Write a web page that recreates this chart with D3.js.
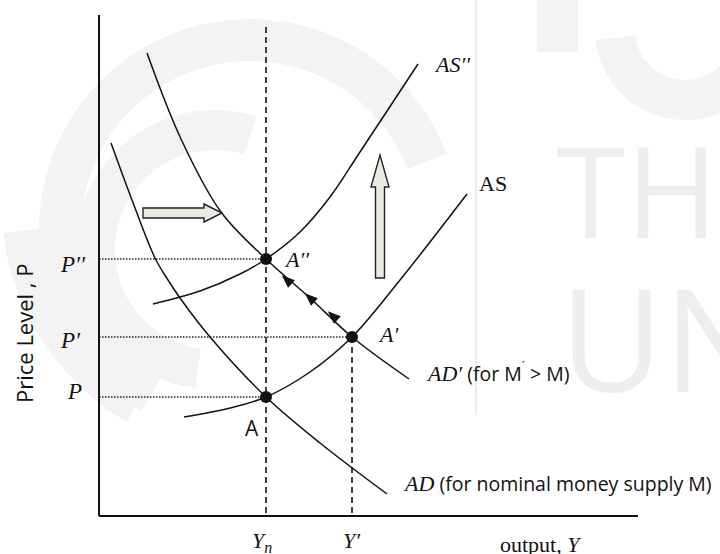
<!DOCTYPE html>
<html>
<head>
<meta charset="utf-8">
<script src="https://cdn.jsdelivr.net/npm/d3@7"></script>
<style>
  body { margin: 0; background: #fff; }
  .serif { font-family: "Liberation Serif", "DejaVu Serif", serif; }
  .sans { font-family: "Open Sans", "Liberation Sans", sans-serif; }
</style>
</head>
<body>
<div id="chart"></div>
<script>
// curve points in chart units (output across, price level up)
var adCurve = [[12, 373], [33, 316], [56, 258], [69, 236], [81, 218], [111, 179], [167, 119], [221, 73], [288, 22]];
var adPrimeCurve = [[48, 463], [82, 377], [122, 304], [167, 257], [211, 218], [253, 179], [310, 137]];
var asCurve = [[85, 99], [131, 108], [167, 119], [211, 144], [253, 179], [301, 236], [368, 322]];
var asDoubleCurve = [[54, 212], [101, 225], [141, 242], [167, 257], [201, 284], [231, 319], [261, 364], [319, 452]];

// equilibrium points
var points = [
    {name: "A", x: 167, y: 119},
    {name: "A'", x: 253, y: 179},
    {name: "A''", x: 167, y: 257}
];
var outputLevels = [{label: "Yn", x: 167, top: 489}, {label: "Y'", x: 253, top: 179}];
var priceLevels = [{label: "P", y: 119, x: 167}, {label: "P'", y: 179, x: 253}, {label: "P''", y: 257, x: 167}];

// small arrowheads on AD' going from A' back up to A''
var pathArrows = [[188, 236], [211, 218], [234, 200]];

// shift arrows: AD shifts right, AS shifts up
var shiftRight = {x0: 44, x1: 123, y: 303};
var shiftUp = {x: 281, y0: 238, y1: 361};

var width = 720, height = 554;
var svg = d3.select("#chart").append("svg").attr("width", width).attr("height", height);

var x = d3.scaleLinear().domain([0, 539]).range([99, 638]);
var y = d3.scaleLinear().domain([0, 501]).range([516, 15]);

// faint watermark in the background
var wm = svg.append("g").attr("fill", "none").attr("stroke", "#f3f3f3");
wm.append("path").attr("stroke-width", 42)
    .attr("d", d3.arc().innerRadius(190).outerRadius(190).startAngle(-2.6).endAngle(1.2)())
    .attr("transform", "translate(250,230)");
wm.append("path").attr("stroke-width", 40)
    .attr("d", d3.arc().innerRadius(120).outerRadius(120).startAngle(-3.0).endAngle(0.3)())
    .attr("transform", "translate(215,250)");
wm.append("path").attr("stroke-width", 38)
    .attr("d", d3.arc().innerRadius(240).outerRadius(240).startAngle(-2.6).endAngle(-1.7)())
    .attr("transform", "translate(260,200)");
wm.append("path").attr("stroke-width", 40)
    .attr("d", d3.arc().innerRadius(70).outerRadius(70).startAngle(1.2).endAngle(4.6)())
    .attr("transform", "translate(685,30)");
wm.append("rect").attr("x", 537).attr("y", 0).attr("width", 41).attr("height", 52)
    .attr("fill", "#f3f3f3").attr("stroke", "none");
wm.append("line").attr("x1", 476).attr("x2", 476).attr("y1", 0).attr("y2", 415)
    .attr("stroke", "#ebebeb").attr("stroke-width", 2);
svg.append("text").attr("class", "sans").attr("x", 556).attr("y", 238)
    .attr("font-size", 126).attr("fill", "#eeeeee").text("THE");
svg.append("text").attr("class", "sans").attr("x", 560).attr("y", 392)
    .attr("font-size", 142).attr("fill", "#eeeeee").text("UN");

// axes
svg.append("line").attr("x1", x(0)).attr("x2", x(0)).attr("y1", y(501)).attr("y2", y(0))
    .attr("stroke", "#111").attr("stroke-width", 2);
svg.append("line").attr("x1", x(0)).attr("x2", x(539)).attr("y1", y(0)).attr("y2", y(0))
    .attr("stroke", "#111").attr("stroke-width", 2);

// guide lines
svg.selectAll(".vguide").data(outputLevels).enter().append("line")
    .attr("x1", d => x(d.x)).attr("x2", d => x(d.x))
    .attr("y1", d => y(d.top)).attr("y2", y(0))
    .attr("stroke", "#111").attr("stroke-width", 1.6).attr("stroke-dasharray", "6,4");
svg.selectAll(".hguide").data(priceLevels).enter().append("line")
    .attr("x1", x(0)).attr("x2", d => x(d.x))
    .attr("y1", d => y(d.y)).attr("y2", d => y(d.y))
    .attr("stroke", "#222").attr("stroke-width", 1.3).attr("stroke-dasharray", "1.5,1.5");

// curves
var line = d3.line().x(d => x(d[0])).y(d => y(d[1])).curve(d3.curveCatmullRom.alpha(0.5));
[adCurve, adPrimeCurve, asCurve, asDoubleCurve].forEach(c => {
    svg.append("path").attr("d", line(c)).attr("fill", "none")
        .attr("stroke", "#111").attr("stroke-width", 1.5);
});

// arrowheads along AD'
var ang = Math.atan2(y(257) - y(179), x(167) - x(253)) * 180 / Math.PI;
svg.selectAll(".pa").data(pathArrows).enter().append("path")
    .attr("d", "M7,0 L-6,-5 L-6,5 Z")
    .attr("fill", "#111")
    .attr("transform", d => `translate(${x(d[0])},${y(d[1])}) rotate(${ang})`);

// block arrows
var bx0 = x(shiftRight.x0), bx1 = x(shiftRight.x1), by = y(shiftRight.y);
svg.append("path")
    .attr("d", `M${bx0},${by - 5} L${bx1 - 18},${by - 5} L${bx1 - 18},${by - 9} L${bx1},${by} L${bx1 - 18},${by + 9} L${bx1 - 18},${by + 5} L${bx0},${by + 5} Z`)
    .attr("fill", "#ebe9e1").attr("stroke", "#222").attr("stroke-width", 1.4);
var ux = x(shiftUp.x), uy0 = y(shiftUp.y0), uy1 = y(shiftUp.y1);
svg.append("path")
    .attr("d", `M${ux - 4.5},${uy0} L${ux - 4.5},${uy1 + 32} L${ux - 9},${uy1 + 32} L${ux},${uy1} L${ux + 9},${uy1 + 32} L${ux + 4.5},${uy1 + 32} L${ux + 4.5},${uy0} Z`)
    .attr("fill", "#ebe9e1").attr("stroke", "#222").attr("stroke-width", 1.4);

// equilibrium dots
svg.selectAll(".pt").data(points).enter().append("circle")
    .attr("cx", d => x(d.x)).attr("cy", d => y(d.y)).attr("r", 6).attr("fill", "#111");

// labels
function label(px, py, txt, cls, italic, size) {
    return svg.append("text").attr("class", cls).attr("x", px).attr("y", py)
        .attr("font-size", size || 22).attr("font-style", italic ? "italic" : "normal")
        .attr("fill", "#111").text(txt);
}
label(436, 72, "AS\u2032\u2032", "serif", true);
label(479, 191, "AS", "serif", false);
label(286, 267, "A\u2032\u2032", "serif", true);
label(380, 342, "A\u2032", "serif", true);
label(245, 436, "A", "sans", false, 21);
label(61, 272, "P\u2032\u2032", "serif", true, 23);
label(61, 348, "P\u2032", "serif", true, 23);
label(68, 399, "P", "serif", true, 23);

var adp = label(428, 381, "AD\u2032", "serif", true);
adp.append("tspan").attr("class", "sans").attr("font-style", "normal").attr("font-size", 19.5).text(" (for M");
adp.append("tspan").attr("class", "sans").attr("font-style", "normal").attr("font-size", 11).attr("dy", -11).text("\u00b4");
adp.append("tspan").attr("class", "sans").attr("font-style", "normal").attr("font-size", 19.5).attr("dy", 11).text(" > M)");

var ad = label(405, 491, "AD", "serif", true);
ad.append("tspan").attr("class", "sans").attr("font-style", "normal").attr("font-size", 19.5).text(" (for nominal money supply M)");

var yn = label(252, 548, "Y", "serif", true);
yn.append("tspan").attr("font-size", 16).attr("dy", 5).text("n");
label(343, 548, "Y\u2032", "serif", true);
var out = label(500, 552, "output, ", "serif", false);
out.append("tspan").attr("font-style", "italic").text("Y");

svg.append("text").attr("class", "sans").attr("transform", "translate(33,403) rotate(-90)")
    .attr("font-size", 22).attr("fill", "#111").text("Price Level , P");
</script>
</body>
</html>
